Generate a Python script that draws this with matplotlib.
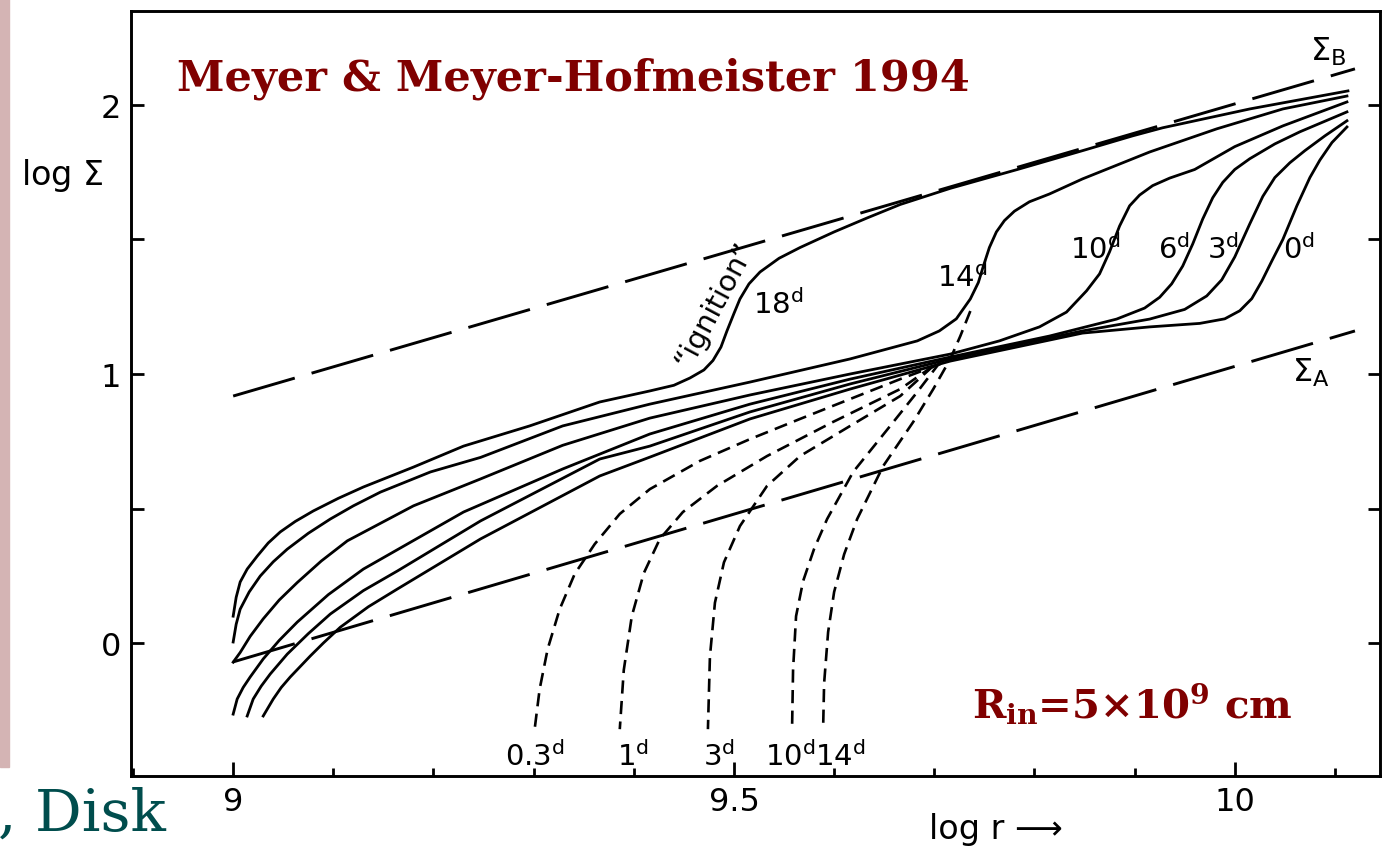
import matplotlib.pyplot as plt
from matplotlib.patches import Rectangle
from matplotlib.ticker import MultipleLocator, FixedLocator

plt.rcParams['font.family'] = ['DejaVu Sans']
plt.rcParams['mathtext.fontset'] = 'dejavuserif'

# log r, log Sigma
r_18 = [9.000, 9.003, 9.007, 9.014, 9.024, 9.035, 9.047, 9.062, 9.080, 9.105, 9.130, 9.180, 9.230,
        9.296, 9.366, 9.416, 9.440, 9.456, 9.470, 9.479, 9.487, 9.493, 9.500, 9.506, 9.515, 9.526,
        9.545, 9.566, 9.600, 9.633, 9.666, 9.716, 9.783, 9.848, 9.898, 9.928, 10.015, 10.113]
s_18 = [0.100, 0.170, 0.227, 0.275, 0.323, 0.372, 0.413, 0.452, 0.491, 0.538, 0.580, 0.654, 0.732,
        0.807, 0.896, 0.937, 0.958, 0.985, 1.015, 1.050, 1.100, 1.160, 1.225, 1.279, 1.335, 1.379,
        1.430, 1.470, 1.528, 1.580, 1.630, 1.690, 1.760, 1.830, 1.885, 1.915, 1.985, 2.052]

r_14 = [9.000, 9.003, 9.007, 9.016, 9.027, 9.040, 9.054, 9.075, 9.097, 9.120, 9.147, 9.197, 9.247,
        9.329, 9.416, 9.516, 9.616, 9.683, 9.705, 9.722, 9.736, 9.744, 9.749, 9.755, 9.762, 9.770,
        9.780, 9.795, 9.815, 9.848, 9.915, 9.982, 10.048, 10.112]
s_14 = [0.004, 0.070, 0.126, 0.190, 0.249, 0.302, 0.349, 0.408, 0.461, 0.510, 0.561, 0.636, 0.690,
        0.807, 0.888, 0.970, 1.056, 1.123, 1.160, 1.205, 1.279, 1.340, 1.401, 1.470, 1.528, 1.570,
        1.605, 1.640, 1.669, 1.725, 1.825, 1.911, 1.985, 2.033]

r_10 = [9.000, 9.007, 9.017, 9.030, 9.046, 9.064, 9.088, 9.114, 9.180, 9.247, 9.329, 9.416, 9.516,
        9.616, 9.716, 9.765, 9.805, 9.832, 9.852, 9.865, 9.875, 9.885, 9.895, 9.905, 9.918, 9.935,
        9.960, 10.000, 10.048, 10.112]
s_10 = [-0.071, -0.035, 0.025, 0.090, 0.160, 0.225, 0.305, 0.380, 0.510, 0.610, 0.735, 0.836, 0.922,
        1.000, 1.074, 1.123, 1.175, 1.230, 1.309, 1.372, 1.454, 1.550, 1.625, 1.665, 1.700, 1.728,
        1.760, 1.845, 1.922, 2.011]

r_6 = [9.000, 9.004, 9.010, 9.017, 9.030, 9.046, 9.064, 9.095, 9.130, 9.230, 9.329, 9.416, 9.516,
       9.616, 9.716, 9.815, 9.882, 9.910, 9.925, 9.937, 9.948, 9.958, 9.968, 9.978, 9.988, 10.000,
       10.015, 10.040, 10.065, 10.112]
s_6 = [-0.264, -0.208, -0.165, -0.126, -0.059, 0.010, 0.078, 0.180, 0.275, 0.487, 0.647, 0.777, 0.888,
       0.981, 1.063, 1.141, 1.204, 1.245, 1.285, 1.335, 1.401, 1.483, 1.576, 1.655, 1.712, 1.760,
       1.800, 1.855, 1.900, 1.974]

r_3 = [9.014, 9.020, 9.028, 9.037, 9.054, 9.075, 9.097, 9.130, 9.164, 9.247, 9.366, 9.416, 9.516,
       9.616, 9.716, 9.848, 9.915, 9.950, 9.972, 9.987, 10.000, 10.015, 10.028, 10.040, 10.055,
       10.070, 10.090, 10.112]
s_3 = [-0.271, -0.208, -0.160, -0.115, -0.041, 0.035, 0.108, 0.195, 0.268, 0.454, 0.684, 0.732, 0.859,
       0.963, 1.056, 1.160, 1.204, 1.240, 1.290, 1.350, 1.435, 1.558, 1.660, 1.730, 1.785,
       1.830, 1.885, 1.941]

r_0 = [9.030, 9.040, 9.048, 9.057, 9.077, 9.090, 9.107, 9.135, 9.164, 9.247, 9.366, 9.416, 9.516,
       9.616, 9.716, 9.848, 9.915, 9.965, 9.990, 10.005, 10.017, 10.027, 10.037, 10.048, 10.062,
       10.075, 10.085, 10.097, 10.112]
s_0 = [-0.271, -0.208, -0.165, -0.126, -0.048, 0.000, 0.059, 0.135, 0.201, 0.387, 0.621, 0.691, 0.833,
       0.944, 1.048, 1.152, 1.175, 1.188, 1.205, 1.235, 1.280, 1.345, 1.420, 1.500, 1.625, 1.730,
       1.795, 1.860, 1.918]

# dashed inner profiles
dr_14 = [9.736, 9.726, 9.716, 9.699, 9.679, 9.649, 9.623, 9.610, 9.600, 9.594, 9.590, 9.589]
ds_14 = [1.234, 1.141, 1.056, 0.944, 0.822, 0.658, 0.461, 0.330, 0.190, 0.041, -0.150, -0.320]
dr_10 = [9.706, 9.683, 9.656, 9.619, 9.593, 9.580, 9.569, 9.562, 9.559, 9.558]
ds_10 = [1.045, 0.933, 0.807, 0.636, 0.461, 0.350, 0.230, 0.100, -0.100, -0.320]
dr_3 = [9.699, 9.666, 9.616, 9.566, 9.533, 9.506, 9.490, 9.481, 9.476, 9.474]
ds_3 = [1.030, 0.918, 0.807, 0.695, 0.584, 0.435, 0.300, 0.150, -0.050, -0.320]
dr_1 = [9.699, 9.666, 9.599, 9.533, 9.483, 9.449, 9.426, 9.410, 9.398, 9.390, 9.386]
ds_1 = [1.030, 0.944, 0.822, 0.695, 0.584, 0.487, 0.387, 0.260, 0.100, -0.100, -0.320]
dr_03 = [9.706, 9.666, 9.616, 9.566, 9.516, 9.466, 9.416, 9.386, 9.361, 9.341, 9.326, 9.314, 9.306,
         9.301]
ds_03 = [1.037, 0.981, 0.907, 0.833, 0.758, 0.677, 0.572, 0.480, 0.368, 0.257, 0.126, -0.022, -0.171,
         -0.320]

# critical surface densities
sig_r = [9.0, 10.12]
sig_b = [0.918, 2.134]
sig_a = [-0.07, 1.16]

solid = [(r_18, s_18), (r_14, s_14), (r_10, s_10), (r_6, s_6), (r_3, s_3), (r_0, s_0)]
dashed = [(dr_03, ds_03), (dr_1, ds_1), (dr_3, ds_3), (dr_10, ds_10), (dr_14, ds_14)]


def main():
    fig = plt.figure(figsize=(13.87, 8.53), dpi=100)
    fig.patches.append(Rectangle((0, 0.1), 9 / 1387, 0.9, transform=fig.transFigure,
                                 color='#d4b4b4', zorder=0))
    ax = fig.add_axes([131 / 1387, 1 - 777 / 853, 1249 / 1387, 765 / 853])

    for r, s in solid:
        ax.plot(r, s, color='black', lw=2.0, solid_joinstyle='round')
    for r, s in dashed:
        ax.plot(r, s, color='black', lw=1.9, dashes=(5, 2.8))
    ax.plot(sig_r, sig_b, color='black', lw=2.1, dashes=(22, 6))
    ax.plot(sig_r, sig_a, color='black', lw=2.1, dashes=(22, 6))

    ax.set_xlim(8.898, 10.145)
    ax.set_ylim(-0.494, 2.349)

    ax.xaxis.set_major_locator(FixedLocator([9, 9.5, 10]))
    ax.xaxis.set_minor_locator(MultipleLocator(0.1))
    ax.set_xticklabels(['9', '9.5', '10'])
    ax.yaxis.set_major_locator(FixedLocator([0, 1, 2]))
    ax.yaxis.set_minor_locator(FixedLocator([0.5, 1.5]))
    ax.set_yticklabels(['0', '1', '2'])
    ax.tick_params(which='both', direction='in', width=2, labelsize=23, right=True)
    ax.tick_params(which='major', length=10, pad=7)
    ax.tick_params(which='minor', length=6)
    ax.tick_params(axis='y', which='both', length=9)
    for sp in ax.spines.values():
        sp.set_linewidth(2.1)

    day = dict(fontsize=21, color='black')
    ax.text(9.519, 1.26, r'$\mathregular{18^d}$', va='center', **day)
    ax.text(9.481, 1.26, '\u201cignition\u201d', rotation=62, ha='center', va='center', **day)
    ax.text(9.703, 1.36, r'$\mathregular{14^d}$', va='center', **day)
    ax.text(9.835, 1.465, r'$\mathregular{10^d}$', va='center', **day)
    ax.text(9.923, 1.465, r'$\mathregular{6^d}$', va='center', **day)
    ax.text(9.972, 1.465, r'$\mathregular{3^d}$', va='center', **day)
    ax.text(10.048, 1.465, r'$\mathregular{0^d}$', va='center', **day)
    for x0, lab in [(9.271, '0.3'), (9.383, '1'), (9.469, '3'), (9.531, '10'), (9.581, '14')]:
        ax.text(x0, -0.42, r'$\mathregular{' + lab + '^d}$', va='center', **day)
    ax.text(10.075, 2.20, r'$\mathregular{\Sigma_B}$', va='center', fontsize=23)
    ax.text(10.057, 1.01, r'$\mathregular{\Sigma_A}$', va='center', fontsize=23)

    fig.text(62 / 1387, 1 - 175 / 853, r'log $\mathregular{\Sigma}$', fontsize=24,
             ha='center', va='center')
    fig.text(996 / 1387, 1 - 830 / 853, 'log r \u27f6', fontsize=24, ha='center', va='center')

    red = '#800000'
    fig.text(177 / 1387, 1 - 90 / 853, 'Meyer & Meyer-Hofmeister 1994', fontsize=31,
             family='DejaVu Serif', weight='bold', color=red, va='baseline')
    fig.text(972 / 1387, 1 - 718 / 853, r'R$_{\mathbf{in}}$=5' + '\u00d7' + r'10$^{\mathbf{9}}$ cm',
             fontsize=29, family='DejaVu Serif', weight='bold', color=red, va='baseline')
    fig.text(166 / 1387, 1 - 831 / 853, ', Disk', fontsize=42, family='DejaVu Serif',
             color='#004d4d', ha='right', va='baseline')

    fig.savefig('out.png', dpi=100)


if __name__ == '__main__':
    main()
